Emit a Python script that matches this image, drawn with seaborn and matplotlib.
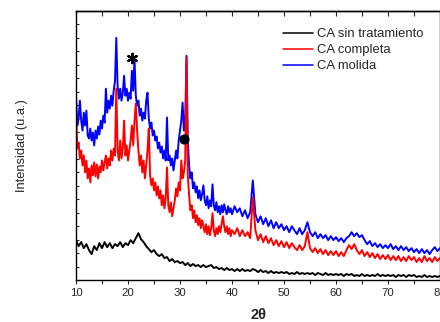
import matplotlib
matplotlib.use("Agg")
import matplotlib.pyplot as plt
import seaborn as sns
import numpy as np

# 2theta grids (0.25 deg up to 40, then 0.5 deg)
tt_fine = np.arange(10, 40.001, 0.25)
tt_coarse = np.arange(40.5, 80.001, 0.5)
tt_black = np.arange(10, 80.001, 0.5)

# intensidad (u.a.)
molida_fine = [
    185, 155, 162, 180, 160, 150, 168, 155, 170, 145, 142, 152,
    140, 148, 135, 150, 142, 154, 146, 160, 152, 165, 158, 192,
    168, 180, 172, 185, 175, 190, 200, 243, 195, 182, 192, 180,
    188, 205, 185, 192, 180, 188, 182, 210, 190, 222, 185, 175,
    180, 165, 172, 160, 168, 162, 180, 188, 162, 152, 158, 145,
    150, 140, 144, 132, 138, 128, 134, 122, 130, 120, 163, 120,
    125, 115, 122, 110, 120, 130, 122, 140, 150, 160, 178, 150,
    160, 225, 140, 115, 102, 108, 92, 98, 88, 94, 82, 90,
    80, 86, 95, 80, 75, 84, 72, 80, 74, 96, 75, 70,
    78, 68, 74, 66, 75, 68, 76, 70, 66, 74, 68, 72,
    66]
molida_coarse = [
    74, 68, 72, 64, 70, 62, 68, 100, 66, 58,
    64, 56, 62, 54, 60, 52, 58, 52, 56, 50,
    54, 48, 54, 50, 46, 52, 46, 50, 58, 48,
    44, 48, 42, 46, 42, 45, 40, 44, 40, 43,
    39, 42, 38, 42, 44, 48, 44, 47, 43, 45,
    40, 36, 39, 34, 37, 33, 36, 32, 35, 32,
    36, 31, 34, 30, 34, 30, 33, 29, 32, 28,
    31, 27, 31, 27, 30, 26, 30, 33, 29, 32]

completa_fine = [
    167, 132, 138, 122, 130, 115, 125, 108, 120, 102, 112, 98,
    115, 105, 118, 104, 116, 102, 114, 108, 120, 110, 118, 125,
    112, 122, 115, 130, 120, 132, 125, 192, 130, 120, 140, 122,
    132, 160, 125, 135, 120, 130, 140, 155, 135, 160, 177, 150,
    130, 115, 125, 108, 120, 102, 115, 130, 152, 105, 95, 102,
    90, 98, 85, 94, 82, 90, 75, 85, 72, 82, 113, 75,
    68, 78, 64, 72, 80, 92, 84, 98, 90, 120, 102, 108,
    120, 223, 105, 85, 70, 75, 62, 70, 58, 65, 55, 62,
    52, 60, 54, 48, 56, 46, 54, 45, 52, 67, 50, 44,
    52, 46, 54, 48, 56, 64, 54, 48, 54, 46, 52, 44,
    50]
completa_coarse = [
    46, 52, 44, 50, 44, 48, 42, 83, 50, 40,
    46, 38, 44, 37, 42, 35, 40, 34, 39, 33,
    38, 32, 37, 33, 30, 35, 30, 34, 48, 32,
    28, 32, 27, 31, 26, 30, 25, 29, 25, 29,
    24, 28, 24, 30, 35, 31, 36, 30, 26, 30,
    24, 28, 23, 27, 22, 26, 21, 25, 21, 25,
    20, 24, 20, 24, 19, 23, 19, 24, 20, 23,
    18, 22, 18, 24, 19, 22, 18, 23, 19, 22]

sin_trat = [
    40, 34, 38, 32, 36, 30, 26, 34, 30, 37,
    32, 38, 33, 37, 32, 36, 34, 38, 33, 37,
    35, 40, 37, 42, 47, 41, 38, 34, 31, 28,
    30, 26, 24, 26, 22, 23, 19, 21, 18, 19,
    17, 18, 15, 17, 14, 16, 14, 15, 13, 15,
    13, 14, 15, 12, 13, 11, 12, 10, 12, 10,
    11, 9, 11, 9, 11, 9, 10, 9, 11, 10,
    8, 10, 8, 9, 7, 9, 7, 8, 7, 8,
    7, 8, 6, 7, 6, 8, 6, 7, 6, 7,
    6, 7, 5, 7, 6, 5, 7, 5, 6, 5,
    6, 5, 6, 4, 6, 5, 6, 4, 5, 4,
    6, 4, 5, 4, 5, 4, 6, 4, 5, 4,
    5, 4, 5, 3, 5, 4, 5, 3, 5, 4,
    5, 3, 4, 3, 5, 3, 4, 3, 4, 3,
    4]

# peak markers: (2theta, intensity)
star_pt = (20.7, 223)
dot_pt = (30.83, 142)

tt_full = np.concatenate([tt_fine, tt_coarse])
molida = np.array(molida_fine + molida_coarse)
completa = np.array(completa_fine + completa_coarse)

sns.set_style("ticks")
plt.rcParams['font.family'] = ['Liberation Sans', 'DejaVu Sans']

fig = plt.figure(figsize=(4.4, 3.22), dpi=100)
ax = fig.add_axes([76/440, 1 - 280/322, 364/440, 269/322])

sns.lineplot(x=tt_black, y=sin_trat, color='black', lw=1.4, ax=ax)
sns.lineplot(x=tt_full, y=molida, color='#0000ff', lw=1.4, ax=ax)
sns.lineplot(x=tt_full, y=completa, color='#ff0000', lw=1.4, ax=ax)
lines = ax.get_lines()
handles = [lines[0], lines[2], lines[1]]

ax.scatter([star_pt[0]], [star_pt[1]], marker=(6, 2, 0), s=45, color='black', lw=1.6, zorder=5)
ax.scatter([dot_pt[0]], [dot_pt[1]], marker='o', s=40, color='black', zorder=5)

ax.set_xlim(10, 80)
ax.set_ylim(0, 270)
ax.set_xticks(range(10, 81, 10))
ax.set_xticks(range(15, 80, 10), minor=True)
ax.set_yticks(np.arange(0, 270.1, 13.5))
ax.set_yticklabels([])
ax.tick_params(axis='x', which='both', direction='out', length=3, width=0.8,
               labelsize=8.2, pad=3, top=False)
ax.tick_params(axis='y', which='both', direction='in', length=2.5, width=0.8)

top = ax.secondary_xaxis('top')
top.set_xticks(range(10, 81, 10))
top.set_xticks(range(15, 80, 10), minor=True)
top.tick_params(axis='x', which='both', direction='in', length=3.5, width=0.8, labeltop=False)

for sp in list(ax.spines.values()) + list(top.spines.values()):
    sp.set_linewidth(1.0)
    sp.set_color('black')

ax.set_xlabel('2θ', fontsize=10.5, fontweight='bold', labelpad=7)
ax.set_ylabel('Intensidad (u.a.)', fontsize=9.3, labelpad=31)

leg = ax.legend(handles, ['CA sin tratamiento', 'CA completa', 'CA molida'],
                loc='upper left', bbox_to_anchor=(0.569, 0.937), frameon=False,
                fontsize=9.4, handlelength=2.3, handletextpad=0.3,
                labelspacing=0.3, borderpad=0, borderaxespad=0)
for h in leg.get_lines():
    h.set_linewidth(1.1)

fig.savefig('out.png', dpi=100)
